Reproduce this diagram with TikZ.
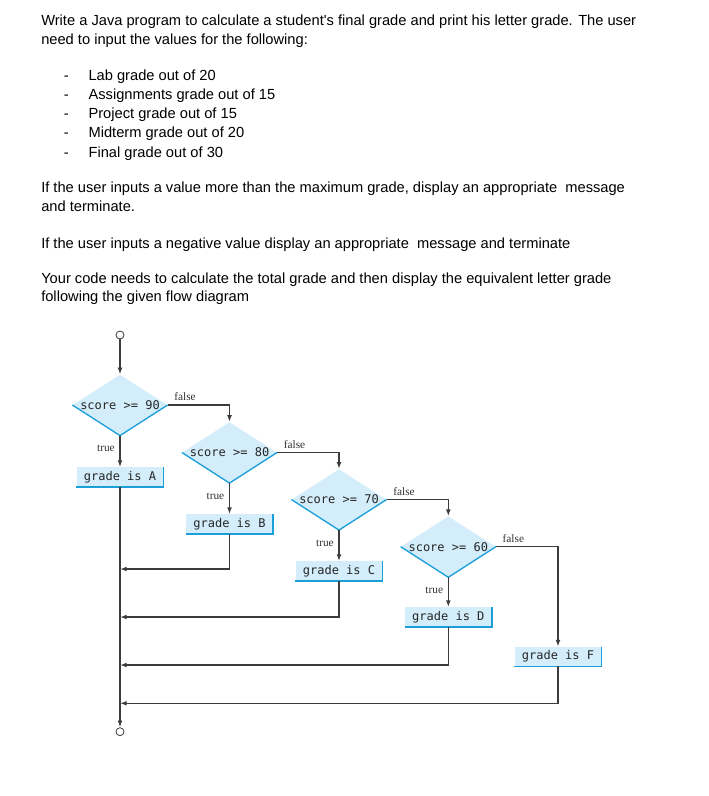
\documentclass[tikz,border=0pt]{standalone}
\usepackage{fontspec}
\newfontfamily\arialf{Liberation Sans}
\newfontfamily\monof{DejaVu Sans Mono}
\newfontfamily\serf{Liberation Serif}
\usetikzlibrary{arrows.meta,calc,shapes.geometric}
\definecolor{boxfill}{HTML}{D3EDFA}
\definecolor{boxedge}{HTML}{1A9FD9}
\definecolor{flowline}{HTML}{3C3C3C}
\begin{document}
\begin{tikzpicture}[x=0.75pt,y=-0.75pt,
  txt/.style={anchor=base west,inner sep=0pt,font=\arialf\fontsize{11pt}{12pt}\selectfont},
  decision/.style={diamond,fill=boxfill,inner sep=0pt,aspect=1.56,minimum width=71pt,minimum height=45.5pt,font=\monof\fontsize{9pt}{10pt}\selectfont,text=black!85},
  action/.style={rectangle,fill=boxfill,inner sep=0pt,minimum width=65pt,minimum height=14.5pt,font=\monof\fontsize{9pt}{10pt}\selectfont,text=black!85},
  edgeline/.style={draw=boxedge,line width=1pt},
  flow/.style={draw=flowline,line width=1pt,-{Latex[length=5pt,width=3.6pt]}},
  lbl/.style={inner sep=0pt,font=\serf\fontsize{8.5pt}{9pt}\selectfont,text=black!80},
  term/.style={circle,draw=flowline,line width=0.6pt,fill=white,minimum size=6pt,inner sep=0pt}
]
\useasboundingbox[fill=white] (0,0) rectangle (709,796);

% ---- text ----
\node[txt] (t1) at (41,25.5) {Write a Java program to calculate a student's final grade and print his letter grade. The user};
\node[txt] (t2) at (41,44.7) {need to input the values for the following:};
\foreach \y/\s [count=\i] in {80/Lab grade out of 20,99.3/Assignments grade out of 15,118.6/Project grade out of 15,137.9/Midterm grade out of 20,157.2/Final grade out of 30}{
  \node[txt] (dash\i) at (63.5,\y) {-};
  \node[txt] (item\i) at (88.3,\y) {\s};
}
\node[txt] (t3) at (41,192.7) {If the user inputs a value more than the maximum grade, display an appropriate\ \ message};
\node[txt] (t4) at (41,211.7) {and terminate.};
\node[txt] (t5) at (41,248.5) {If the user inputs a negative value display an appropriate\ \ message and terminate};
\node[txt] (t6) at (41,283.3) {Your code needs to calculate the total grade and then display the equivalent letter grade};
\node[txt] (t7) at (41,301.8) {following the given flow diagram};

% ---- flowchart ----
\node[term] (start) at (120,335) {};
\node[decision] (d1) at (120,405) {score >= 90};
\node[decision] (d2) at (229.5,452.5) {score >= 80};
\node[decision] (d3) at (339,499.5) {score >= 70};
\node[decision] (d4) at (448.3,546.7) {score >= 60};
\foreach \d in {d1,d2,d3,d4}{
  \draw[edgeline] (\d.west) -- (\d.south) -- (\d.east);
}
\node[action] (bA) at (120,477) {grade is A};
\node[action] (bB) at (229.5,524) {grade is B};
\node[action] (bC) at (339,571) {grade is C};
\node[action] (bD) at (448.3,617) {grade is D};
\node[action] (bF) at (558,656.5) {grade is F};
\foreach \b in {bA,bB,bC,bD,bF}{
  \draw[edgeline] (\b.north east) -- (\b.south east) -- (\b.south west);
}
\node[term] (finish) at (120,731.7) {};

\coordinate (rB) at (120,569);
\coordinate (rC) at (120,617);
\coordinate (rD) at (120,665);
\coordinate (rF) at (120,703.3);

\draw[flow] (start) -- (d1.north);
\draw[flow] (d1.south) -- (bA.north);
\draw[flow] (d2.south) -- (bB.north);
\draw[flow] (d3.south) -- (bC.north);
\draw[flow] (d4.south) -- (bD.north);
\draw[flow] (d1.east) -| (d2.north);
\draw[flow] (d2.east) -| (d3.north);
\draw[flow] (d3.east) -| (d4.north);
\draw[flow] (d4.east) -| (bF.north);
\draw[flow] (bA.south) -- (finish.north);
\draw[flow] (bB.south) |- (rB);
\draw[flow] (bC.south) |- (rC);
\draw[flow] (bD.south) |- (rD);
\draw[flow] (bF.south) |- (rF);

\foreach \d in {d1,d2,d3,d4}{
  \node[lbl,anchor=base west] (f\d) at ($(\d.east)+(6.5,-4.5)$) {false};
  \node[lbl,anchor=base east] (tr\d) at ($(\d.south)+(-5,16)$) {true};
}
\end{tikzpicture}
\end{document}
